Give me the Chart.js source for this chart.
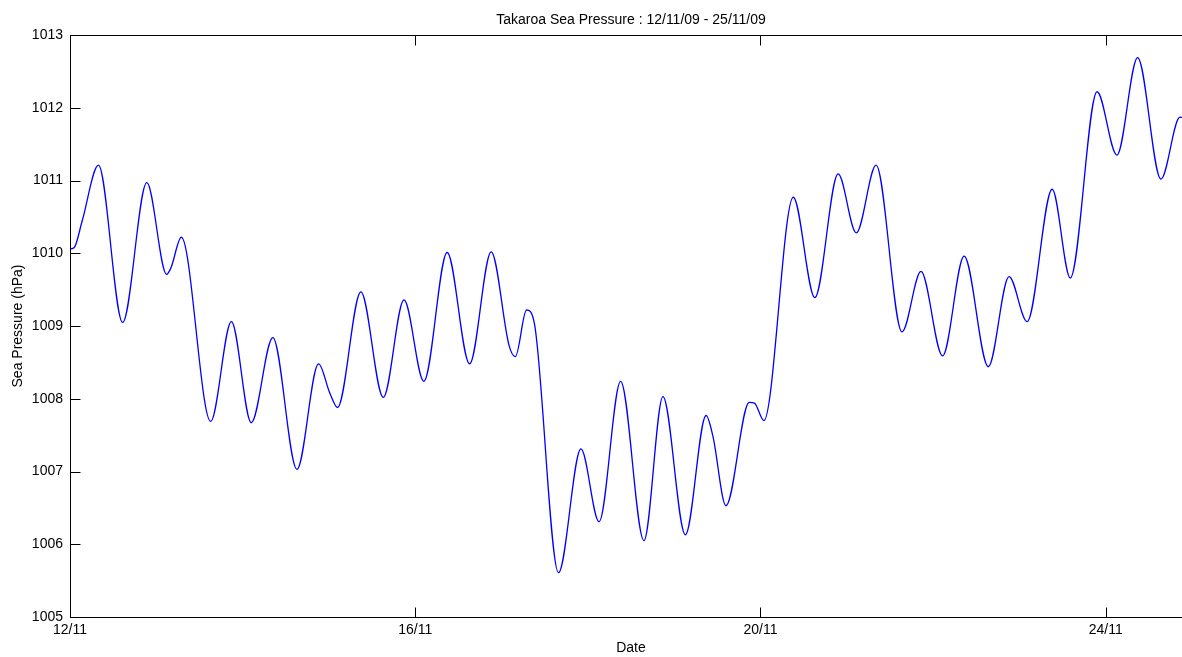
<!DOCTYPE html>
<html>
<head>
<meta charset="utf-8">
<title>Takaroa Sea Pressure</title>
<script src="https://cdn.jsdelivr.net/npm/chart.js@4/dist/chart.umd.min.js"></script>
<style>
    html, body { margin: 0; padding: 0; background: #fff; overflow: hidden; }
    #wrap { position: absolute; left: 0; top: 0; width: 1200px; height: 657px; }
</style>
</head>
<body>
<div id="wrap"><canvas id="pressureChart" width="1200" height="657"></canvas></div>
<script>
// days since 12/11/09 00:00
const dayOffset = [0, 0.05, 0.14, 0.33, 0.61, 0.89, 1.12, 1.17, 1.29, 1.63, 1.87, 2.10, 2.35, 2.63, 2.88, 3.01,
    3.10, 3.37, 3.63, 3.87, 4.10, 4.37, 4.63, 4.88, 5.09, 5.16, 5.29, 5.38, 5.66, 5.92, 6.13, 6.38, 6.65, 6.87,
    7.13, 7.37, 7.45, 7.60, 7.87, 7.93, 8.04, 8.38, 8.63, 8.90, 9.11, 9.34, 9.64, 9.86, 10.11, 10.36, 10.64,
    10.88, 11.09, 11.38, 11.59, 11.90, 12.13, 12.37, 12.64, 12.86, 13.0];

// sea pressure, hPa
const pressure = [1010.06, 1010.08, 1010.44, 1011.21, 1009.05, 1010.97, 1009.71, 1009.80, 1010.22, 1007.69,
    1009.06, 1007.67, 1008.84, 1007.03, 1008.48, 1008.08, 1007.88, 1009.47, 1008.02, 1009.36, 1008.24, 1010.01,
    1008.48, 1010.02, 1008.72, 1008.58, 1009.22, 1009.04, 1005.61, 1007.31, 1006.31, 1008.24, 1006.05, 1008.03,
    1006.13, 1007.77, 1007.48, 1006.53, 1007.95, 1007.94, 1007.70, 1010.77, 1009.39, 1011.09, 1010.28, 1011.21,
    1008.92, 1009.75, 1008.59, 1009.96, 1008.44, 1009.68, 1009.06, 1010.88, 1009.66, 1012.22, 1011.35, 1012.69,
    1011.02, 1011.87, 1011.80];

const tickDays = [0, 4, 8, 12];
const dateLabels = ['12/11', '16/11', '20/11', '24/11'];
const pressureTicks = [1005, 1006, 1007, 1008, 1009, 1010, 1011, 1012, 1013];

const FONT = "'Liberation Sans', Arial, sans-serif";

// matlab style box with inward ticks on all four sides
const frameTicks = {
    id: 'frameTicks',
    afterDraw: function(chart) {
        var ctx = chart.ctx;
        var a = chart.chartArea;
        var l = Math.round(a.left) + 0.5, r = Math.round(a.right) + 0.5;
        var t = Math.round(a.top) + 0.5, b = Math.round(a.bottom) + 0.5;
        var len = 10;
        ctx.save();
        ctx.strokeStyle = '#000';
        ctx.lineWidth = 1;
        ctx.strokeRect(l, t, r - l, b - t);
        ctx.beginPath();
        chart.scales.y.ticks.forEach(function(tk) {
            var y = Math.round(chart.scales.y.getPixelForValue(tk.value)) + 0.5;
            ctx.moveTo(l, y); ctx.lineTo(l + len, y);
            ctx.moveTo(r, y); ctx.lineTo(r - len, y);
        });
        chart.scales.x.ticks.forEach(function(tk) {
            var x = Math.round(chart.scales.x.getPixelForValue(tk.value)) + 0.5;
            ctx.moveTo(x, b); ctx.lineTo(x, b - len);
            ctx.moveTo(x, t); ctx.lineTo(x, t + len);
        });
        ctx.stroke();
        ctx.restore();
    }
};

const renderChart = function() {
    var points = dayOffset.map(function(d, i) { return { x: d, y: pressure[i] }; });
    var ctx = document.getElementById('pressureChart').getContext('2d');

    return new Chart(ctx, {
        type: 'line',
        data: {
            datasets: [{
                data: points,
                borderColor: '#0000ff',
                borderWidth: 1.3,
                pointRadius: 0,
                fill: false,
                cubicInterpolationMode: 'monotone'
            }]
        },
        options: {
            responsive: false,
            animation: false,
            devicePixelRatio: 1,
            layout: { padding: { left: 0, right: 8, top: 0, bottom: 0 } },
            plugins: {
                legend: { display: false },
                tooltip: { enabled: false },
                title: {
                    display: true,
                    fullSize: false,
                    text: 'Takaroa Sea Pressure : 12/11/09 - 25/11/09',
                    color: '#000',
                    font: { family: FONT, size: 14, weight: 'normal', lineHeight: 1.2 },
                    padding: { top: 12, bottom: 6.2 }
                }
            },
            scales: {
                x: {
                    type: 'linear',
                    min: 0,
                    max: 13,
                    grid: { display: false, drawTicks: false },
                    border: { display: false },
                    afterBuildTicks: function(scale) {
                        scale.ticks = tickDays.map(function(v) { return { value: v }; });
                    },
                    afterFit: function(scale) { scale.height = 40; },
                    ticks: {
                        color: '#000',
                        padding: 5,
                        maxRotation: 0,
                        font: { family: FONT, size: 14 },
                        callback: function(v) { return dateLabels[tickDays.indexOf(v)]; }
                    },
                    title: {
                        display: true,
                        text: 'Date',
                        color: '#000',
                        font: { family: FONT, size: 14 },
                        padding: { top: 0, bottom: 0 }
                    }
                },
                y: {
                    min: 1005,
                    max: 1013,
                    grid: { display: false, drawTicks: false },
                    border: { display: false },
                    afterBuildTicks: function(scale) {
                        scale.ticks = pressureTicks.map(function(v) { return { value: v }; });
                    },
                    afterFit: function(scale) { scale.width = 70; },
                    ticks: {
                        color: '#000',
                        padding: 7,
                        font: { family: FONT, size: 14 },
                        callback: function(v) { return String(v); }
                    },
                    title: {
                        display: true,
                        text: 'Sea Pressure (hPa)',
                        color: '#000',
                        font: { family: FONT, size: 14 },
                        padding: { top: 10, bottom: 0 }
                    }
                }
            }
        },
        plugins: [frameTicks]
    });
}

renderChart();
</script>
</body>
</html>
